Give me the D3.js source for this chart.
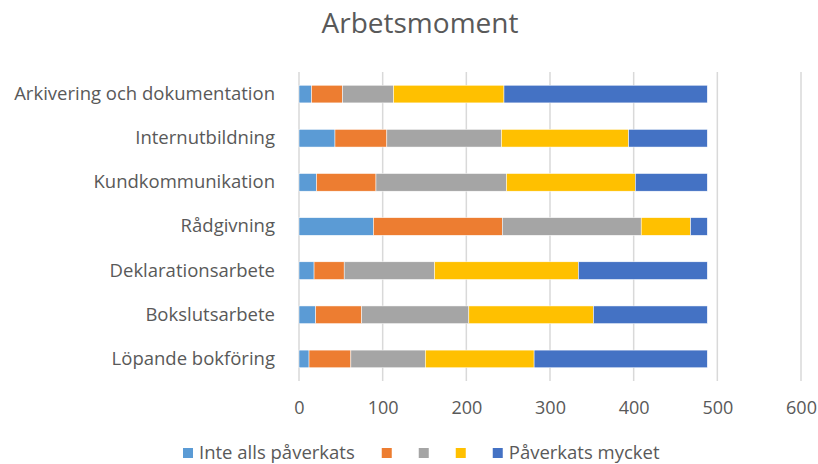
<!DOCTYPE html>
<html>
<head>
<meta charset="utf-8">
<script src="https://cdn.jsdelivr.net/npm/d3@7"></script>
<style>
  body { margin: 0; background: #fff; }
  text { font-family: "Open Sans", sans-serif; fill: #595959; }
</style>
</head>
<body>
<div id="chart"></div>
<script>
(function() {
  var width = 818, height = 464;
  var margin = { top: 72, left: 299, bottom: 381 };

  var categories = ["Arkivering och dokumentation", "Internutbildning", "Kundkommunikation", "Rådgivning", "Deklarationsarbete", "Bokslutsarbete", "Löpande bokföring"];
  var seriesNames = ["Inte alls påverkats", "", "", "", "Påverkats mycket"];
  var colors = ["#5B9BD5", "#ED7D31", "#A5A5A5", "#FFC000", "#4472C4"];

  // one array per series, in category order
  var s1 = [15, 43, 21, 89, 18, 20, 12];
  var s2 = [37, 62, 71, 154, 36, 55, 50];
  var s3 = [61, 137, 156, 166, 108, 128, 89];
  var s4 = [132, 152, 154, 59, 172, 149, 130];
  var s5 = [243, 94, 86, 20, 154, 136, 207];
  var xTicks = [0, 100, 200, 300, 400, 500, 600];

  var allSeries = [s1, s2, s3, s4, s5];
  var rows = categories.map(function(c, i) {
    var row = { category: c };
    allSeries.forEach(function(s, j) { row["k" + j] = s[i]; });
    return row;
  });
  var keys = allSeries.map(function(s, j) { return "k" + j; });
  var stacked = d3.stack().keys(keys)(rows);

  var svg = d3.select("#chart").append("svg")
    .attr("width", width)
    .attr("height", height);

  var x = d3.scaleLinear().domain([0, 600]).range([margin.left, margin.left + 502]);
  var y = d3.scaleBand().domain(categories).range([margin.top, margin.bottom]).paddingInner(0.6).paddingOuter(0.3);

  // gridlines
  svg.append("g")
    .selectAll("line")
    .data(xTicks)
    .enter().append("line")
    .attr("x1", function(d) { return x(d); })
    .attr("x2", function(d) { return x(d); })
    .attr("y1", margin.top)
    .attr("y2", margin.bottom)
    .attr("stroke", "#D9D9D9")
    .attr("stroke-width", 1.5);

  // bars
  svg.append("g")
    .selectAll("g")
    .data(stacked)
    .enter().append("g")
    .attr("fill", function(d, i) { return colors[i]; })
    .selectAll("rect")
    .data(function(d) { return d; })
    .enter().append("rect")
    .attr("x", function(d) { return x(d[0]); })
    .attr("width", function(d) { return x(d[1]) - x(d[0]); })
    .attr("y", function(d) { return y(d.data.category); })
    .attr("height", y.bandwidth())
    .attr("stroke", "#fff")
    .attr("stroke-width", 0.5);

  // x axis
  var xAxis = d3.axisBottom(x).tickValues(xTicks).tickSize(0).tickPadding(20);
  var gx = svg.append("g")
    .attr("transform", "translate(0," + margin.bottom + ")")
    .call(xAxis);
  gx.select(".domain").remove();
  gx.selectAll("text").style("font-size", "18px").style("fill", "#595959").style("font-family", "Open Sans, sans-serif");

  // y axis
  var yAxis = d3.axisLeft(y).tickSize(0).tickPadding(24);
  var gy = svg.append("g")
    .attr("transform", "translate(" + margin.left + ",0)")
    .call(yAxis);
  gy.select(".domain").remove();
  gy.selectAll("text").style("font-size", "18.5px").style("fill", "#595959").style("font-family", "Open Sans, sans-serif");

  // title
  svg.append("text")
    .attr("x", 420)
    .attr("y", 33)
    .attr("text-anchor", "middle")
    .style("font-size", "28px")
    .text("Arbetsmoment");

  // legend
  var legend = svg.append("g").attr("transform", "translate(0,453)");
  var lx = 183;
  seriesNames.forEach(function(name, i) {
    legend.append("rect")
      .attr("x", lx)
      .attr("y", -5)
      .attr("width", 10)
      .attr("height", 10)
      .attr("fill", colors[i]);
    lx += 16;
    if (name) {
      var t = legend.append("text")
        .attr("x", lx)
        .attr("y", 0)
        .attr("dy", "0.35em")
        .style("font-size", "18.5px")
        .text(name);
      lx += t.node().getComputedTextLength() + 27;
    } else {
      lx += 21;
    }
  });
})();
</script>
</body>
</html>
